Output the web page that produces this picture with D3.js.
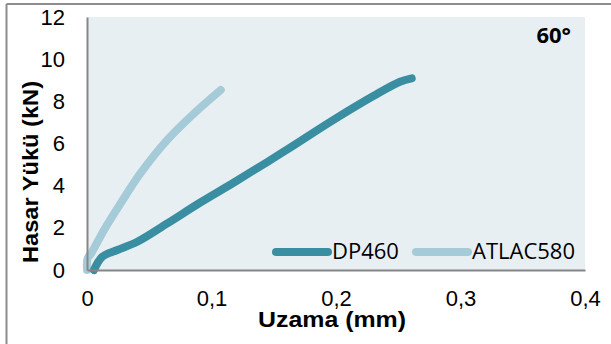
<!DOCTYPE html>
<html>
<head>
<meta charset="utf-8">
<script src="https://cdn.jsdelivr.net/npm/d3@7"></script>
<style>
  body { margin: 0; background: #fff; }
  svg { display: block; }
  .axis-title { font-family: "Liberation Sans", Arial, sans-serif; font-size: 22px; font-weight: bold; }
  .legend-label { font-family: "Open Sans", sans-serif; font-size: 22px; }
</style>
</head>
<body>
<div id="chart"></div>
<script>
// Data
const seriesNames = ["DP460", "ATLAC580"];

const dpStrain = [0.0056, 0.0123, 0.0244, 0.0404, 0.0645, 0.0910, 0.1180, 0.1580, 0.1980, 0.2300, 0.2514, 0.2608];
const dpLoad   = [0,      0.63,   0.95,   1.34,   2.21,   3.20,   4.15,   5.61,   7.12,   8.25,   8.93,   9.09];

const atStrain = [0.0,  0.0005, 0.0035, 0.0137, 0.0270, 0.0430, 0.0645, 0.0860, 0.1074];
const atLoad   = [0.0,  0.55,   0.80,   1.90,   3.16,   4.59,   6.17,   7.43,   8.54];

const xTicks = [0, 0.1, 0.2, 0.3, 0.4];
const yTicks = [0, 2, 4, 6, 8, 10, 12];

const width = 611;
const height = 344;
const margin = { top: 17, right: 26, bottom: 74, left: 87 };
const innerWidth = width - margin.left - margin.right;
const innerHeight = height - margin.top - margin.bottom;

const darkTeal = "#3a8ea1";
const lightBlue = "#a6cbd8";
const axisGray = "#868686";

const svg = d3.select("#chart")
    .append("svg")
    .attr("width", width)
    .attr("height", height);

// outer frame (only top and left edges visible)
svg.append("line")
    .attr("x1", 6.5).attr("x2", width)
    .attr("y1", 4).attr("y2", 4)
    .attr("stroke", "#8c8c8c").attr("stroke-width", 2);
svg.append("line")
    .attr("x1", 6.5).attr("x2", 6.5)
    .attr("y1", 4).attr("y2", height)
    .attr("stroke", "#8c8c8c").attr("stroke-width", 2);

const innerChart = svg.append("g")
    .attr("transform", `translate(${margin.left}, ${margin.top})`);

const xScale = d3.scaleLinear()
    .domain([0, 0.4])
    .range([0, innerWidth]);

const yScale = d3.scaleLinear()
    .domain([0, 12])
    .range([innerHeight, 0]);

// plot background
innerChart.append("rect")
    .attr("width", innerWidth)
    .attr("height", innerHeight)
    .attr("fill", "#e8eff2");

const trLocale = d3.formatLocale({ decimal: ",", thousands: ".", grouping: [3], currency: ["", ""] });
const fmt = trLocale.format("~g");

const bottomAxis = d3.axisBottom(xScale)
    .tickValues(xTicks)
    .tickSize(0)
    .tickPadding(20)
    .tickFormat(fmt);

const leftAxis = d3.axisLeft(yScale)
    .tickValues(yTicks)
    .tickSize(0)
    .tickPadding(22)
    .tickFormat(fmt);

const lineGenerator = d3.line()
    .x(d => xScale(d[0]))
    .y(d => yScale(d[1]))
    .curve(d3.curveCatmullRom.alpha(0.5));

const atData = atStrain.map((s, i) => [s, atLoad[i]]);
const dpData = dpStrain.map((s, i) => [s, dpLoad[i]]);

innerChart.append("path")
    .attr("d", lineGenerator(atData))
    .attr("fill", "none")
    .attr("stroke", lightBlue)
    .attr("stroke-width", 8)
    .attr("stroke-linecap", "round")
    .attr("stroke-linejoin", "round");

innerChart.append("path")
    .attr("d", lineGenerator(dpData))
    .attr("fill", "none")
    .attr("stroke", darkTeal)
    .attr("stroke-width", 8)
    .attr("stroke-linecap", "round")
    .attr("stroke-linejoin", "round");

const xAxisG = innerChart.append("g")
    .attr("transform", `translate(0, ${innerHeight})`)
    .call(bottomAxis);

const yAxisG = innerChart.append("g")
    .call(leftAxis);

[xAxisG, yAxisG].forEach(g => {
    g.attr("font-family", "'Liberation Sans', Arial, sans-serif").attr("font-size", 22);
    g.select(".domain").attr("stroke", axisGray).attr("stroke-width", 2);
    g.selectAll(".tick text").attr("fill", "#000");
});

// legend
const legendItems = [
    { name: seriesNames[0], color: darkTeal, x: 272 },
    { name: seriesNames[1], color: lightBlue, x: 412 }
];
const legend = svg.append("g");
legendItems.forEach(item => {
    legend.append("line")
        .attr("x1", item.x + 4).attr("x2", item.x + 56)
        .attr("y1", 252).attr("y2", 252)
        .attr("stroke", item.color)
        .attr("stroke-width", 8)
        .attr("stroke-linecap", "round");
    legend.append("text")
        .attr("class", "legend-label")
        .attr("x", item.x + 60)
        .attr("y", 259)
        .text(item.name);
});

// panel label
svg.append("text")
    .attr("x", 571)
    .attr("y", 43)
    .attr("text-anchor", "end")
    .attr("font-family", "'Open Sans', sans-serif")
    .attr("font-size", 22)
    .attr("font-weight", "bold")
    .text("60°");

// axis titles
svg.append("text")
    .attr("class", "axis-title")
    .attr("text-anchor", "middle")
    .attr("x", 332)
    .attr("y", 327)
    .attr("textLength", 148)
    .attr("lengthAdjust", "spacingAndGlyphs")
    .text("Uzama (mm)");

svg.append("text")
    .attr("class", "axis-title")
    .attr("text-anchor", "middle")
    .attr("transform", "translate(38, 172) rotate(-90)")
    .attr("textLength", 182)
    .attr("lengthAdjust", "spacingAndGlyphs")
    .text("Hasar Yükü (kN)");
</script>
</body>
</html>
